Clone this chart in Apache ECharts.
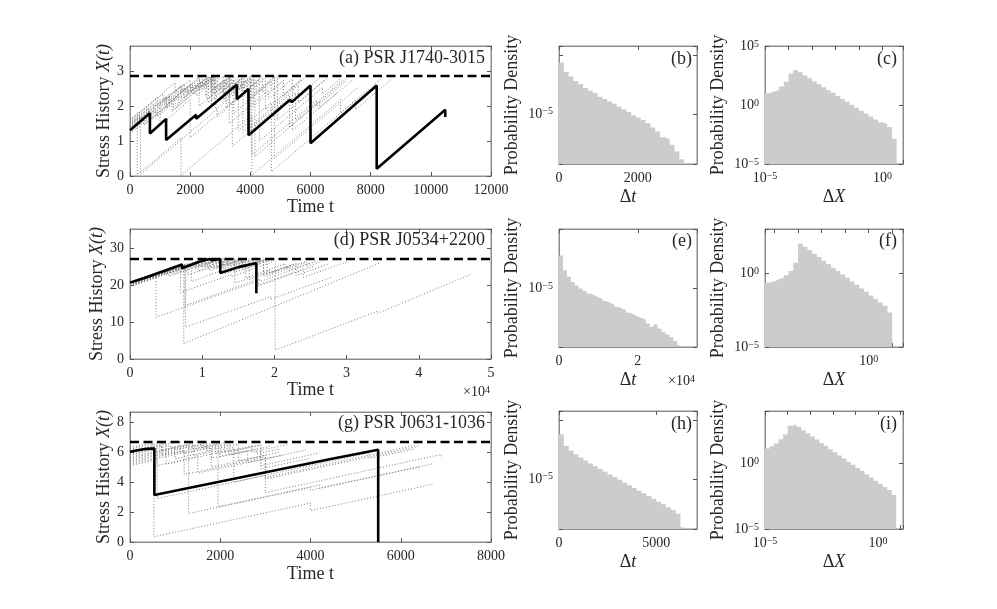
<!DOCTYPE html>
<html>
<head>
<meta charset="utf-8">
<script src="https://cdn.jsdelivr.net/npm/echarts@6/dist/echarts.min.js"></script>
<style>
html, body { margin: 0; padding: 0; background: #fff; }
#main { width: 997px; height: 609px; }
</style>
</head>
<body>
<div id="main"></div>
<script>
/* ---------- stress histories (t, X) ---------- */
// (a) PSR J1740-3015
let thresholdA = 2.87;
let blackA = [[0,1.31],[240,1.49],[260,1.45],[662,1.80],[662,1.22],[1200,1.64],[1200,1.03],[2200,1.76],[2200,1.64],[3550,2.62],[3550,2.20],[3940,2.50],[3940,1.17],[5320,2.19],[5380,2.12],[6000,2.60],[6000,0.94],[8200,2.60],[8200,0.21],[10480,1.90],[10480,1.69]];
let grayA = [
    [[0,1.52],[240,1.70],[240,0.03],[1700,1.10],[1700,0.02],[4050,1.75],[4050,0.02],[7000,2.19],[7000,1.80],[8400,2.83]],
    [[0,1.42],[650,1.90],[650,1.55],[1450,2.14],[1450,1.90],[2700,2.82],[2700,2.45],[3150,2.78],[3150,2.20],[3900,2.75],[3900,1.30],[5300,2.33],[5300,1.40],[7300,2.87]],
    [[0,1.30],[1000,2.03],[1000,1.45],[2000,2.19],[2000,1.10],[3400,2.13],[3400,0.85],[5500,2.39],[5500,1.60],[7100,2.78]],
    [[0,1.20],[900,1.86],[900,1.70],[1400,2.07],[1400,1.85],[2500,2.66],[2500,2.30],[3000,2.67],[3000,2.40],[3600,2.84],[3600,1.30],[4700,2.11],[4700,0.12],[7500,2.18],[7500,1.90],[8700,2.78]],
    [[0,1.62],[300,1.84],[300,1.60],[1200,2.26],[1200,2.05],[1900,2.56],[1900,2.35],[2600,2.86],[2600,2.50],[3100,2.87],[3100,2.20],[4000,2.86],[4000,1.20],[5600,2.38],[5600,2.10],[6600,2.84]],
    [[0,1.35],[500,1.72],[500,1.50],[1600,2.31],[1600,2.10],[2200,2.54],[2200,2.30],[2900,2.81],[2900,2.55],[3300,2.84],[3300,1.50],[4600,2.46],[4600,2.20],[5400,2.79],[5400,1.30],[6900,2.40]],
    [[0,1.48],[800,2.07],[800,1.80],[1800,2.53],[1800,2.25],[2400,2.69],[2400,2.50],[2850,2.83],[2850,1.90],[3800,2.60],[3800,2.40],[4300,2.77],[4300,1.00],[6400,2.54],[6400,2.35],[7000,2.79]],
    [[0,1.55],[1100,2.36],[1100,2.15],[1700,2.59],[1700,2.40],[2300,2.84],[2300,2.00],[3100,2.59],[3100,2.35],[3700,2.79],[3700,2.45],[4150,2.78],[4150,0.55],[6300,2.13],[6300,1.95],[7400,2.76]],
    [[0,1.38],[1300,2.34],[1300,2.10],[2050,2.65],[2050,2.45],[2550,2.82],[2550,2.20],[3450,2.86],[3450,1.80],[4900,2.87],[4900,1.60],[6500,2.78]],
    [[0,1.45],[350,1.71],[350,0.05],[2900,1.92],[2900,1.70],[3900,2.44],[3900,2.20],[4800,2.86],[4800,0.50],[7600,2.56]],
    [[0,1.58],[1500,2.68],[1500,2.40],[2000,2.77],[2000,2.55],[2400,2.84],[2400,2.60],[2750,2.86],[2750,2.40],[3350,2.84],[3350,2.55],[3750,2.84],[3750,1.25],[5600,2.61],[5600,2.30],[6300,2.81]],
    [[0,1.33],[700,1.84],[700,1.65],[1900,2.53],[1900,2.40],[2350,2.73],[2350,2.55],[2750,2.84],[2750,2.30],[3250,2.67],[3250,2.45],[3700,2.78],[3700,2.50],[4050,2.76],[4050,0.60],[6200,2.18],[6200,2.00],[7200,2.73]],
    [[0,1.50],[600,1.94],[600,1.75],[1300,2.26],[1300,2.10],[2000,2.61],[2000,2.40],[2500,2.77],[2500,2.60],[2800,2.82],[2800,2.35],[3400,2.79],[3400,2.50],[3800,2.79],[3800,2.30],[4500,2.81],[4500,1.90],[5700,2.78]],
    [[0,1.40],[1200,2.28],[1200,1.95],[2100,2.61],[2100,2.35],[2700,2.79],[2700,2.15],[3500,2.74],[3500,2.40],[4100,2.84],[4100,2.00],[5100,2.74],[5100,2.30],[5800,2.81]],
    [[0,1.25],[1600,2.43],[1600,2.20],[2200,2.64],[2200,2.50],[2700,2.87],[2700,2.05],[3600,2.71],[3600,2.55],[4000,2.84],[4000,2.20],[4700,2.71],[4700,2.45],[5100,2.74]],
    [[0,1.60],[900,2.26],[900,2.00],[1700,2.59],[1700,2.20],[2600,2.86],[2600,2.10],[3300,2.61],[3300,2.30],[4000,2.81],[4000,2.55],[4300,2.77]],
    [[0,1.28],[450,1.61],[450,1.45],[1500,2.22],[1500,2.00],[2300,2.59],[2300,2.45],[2800,2.82],[2800,2.50],[3200,2.79],[3200,1.95],[4200,2.69],[4200,2.40],[4800,2.84],[4800,2.10],[5700,2.76]],
    [[0,1.46],[1000,2.20],[1000,2.05],[1800,2.64],[1800,2.45],[2300,2.82],[2300,2.55],[2700,2.84],[2700,2.40],[3300,2.84],[3300,2.05],[4400,2.86],[4400,2.40],[5000,2.84]]
];

// (d) PSR J0534+2200
let thresholdD = 27.1;
let blackD = [[0,20.7],[1900,21.9],[1900,21.6],[7200,25.6],[7200,24.6],[9500,26.3],[9500,26.0],[11000,27.1],[11300,26.8],[12500,27.1],[12500,23.3],[15000,24.9],[15000,24.4],[17500,26.0],[17500,17.8]];
let grayD = [
    [[0,20.2],[3600,22.6],[3600,11.3],[17800,21.2],[17800,19.8],[25500,25.2]],
    [[0,20.0],[7450,25.3],[7450,4.2],[34600,26.0]],
    [[0,20.5],[5000,24.0],[5000,22.8],[9000,25.6],[9000,24.5],[12000,26.6],[12000,25.0],[15500,27.1],[15500,24.3],[20100,27.2],[20100,2.4],[34200,12.9],[34200,12.3],[47300,23.0]],
    [[0,19.5],[6000,23.7],[6000,23.0],[10500,26.2],[10500,24.8],[13500,26.9],[13500,25.2],[17500,26.9],[17500,19.9],[24000,24.4],[24000,22.1],[30000,26.3]],
    [[0,20.8],[4000,23.6],[4000,23.0],[8000,25.8],[8000,25.0],[11000,27.1],[11000,24.0],[16000,27.2],[16000,22.0],[21500,25.8],[21500,24.5],[24500,26.6]],
    [[0,20.3],[7600,25.6],[7600,14.5],[18000,21.8],[18000,21.0],[26000,26.6]],
    [[0,19.9],[8500,25.8],[8500,21.0],[13000,24.2],[13000,23.0],[18500,26.8],[18500,22.5],[22000,25.0],[22000,24.0],[25000,26.1]],
    [[0,20.6],[3000,22.7],[3000,22.1],[7000,24.9],[7000,18.0],[14000,22.9],[14000,22.3],[20000,26.5]],
    [[0,20.1],[9500,26.7],[9500,23.8],[14500,27.1],[14500,20.5],[19500,24.0],[19500,23.4],[23000,25.9],[23000,22.6],[27500,25.8]],
    [[0,19.6],[7700,25.0],[7700,8.6],[19500,16.9],[19500,16.2],[28000,22.2]],
    [[0,20.9],[2000,22.3],[2000,21.6],[6500,24.8],[6500,24.0],[10000,26.5],[10000,25.2],[12800,27.2],[12800,24.8],[17000,27.0],[17000,25.5],[19000,26.9],[19000,22.4],[24500,26.3],[24500,25.0],[27000,26.8]],
    [[0,20.4],[6000,24.3],[6000,23.6],[9500,25.9],[9500,25.3],[12500,27.2],[12500,25.8],[14500,27.1],[14500,23.5],[18000,25.8]],
    [[0,19.8],[9000,25.7],[9000,25.1],[11500,26.7],[11500,24.6],[15000,26.9],[15000,26.2],[16500,27.2],[16500,21.5],[20500,24.1]],
    [[0,20.0],[5500,23.6],[5500,22.5],[10000,25.4],[10000,24.8],[13500,27.1],[13500,25.5],[15500,26.8],[15500,25.0],[18500,27.0],[18500,23.0],[22500,25.6]],
    [[0,21.0],[4500,23.9],[4500,23.3],[9000,26.2],[9000,25.8],[10500,26.8],[10500,25.6],[13000,27.2],[13000,24.3],[16500,26.6],[16500,25.6],[18000,26.6]],
    [[0,20.5],[8000,25.7],[8000,22.8],[12000,25.4],[12000,24.7],[15700,27.1],[15700,24.9],[19000,27.0]]
];

// (g) PSR J0631-1036
let thresholdG = 6.68;
let blackG = [[0,6.03],[300,6.20],[380,6.22],[400,6.18],[540,6.25],[540,3.14],[4450,5.55],[4450,5.50],[5500,6.16],[5500,0]];
let grayG = [
    [[0,5.95],[530,6.30],[530,0.35],[4000,2.60],[4000,2.10],[6700,3.85]],
    [[0,5.60],[1300,6.45],[1300,1.90],[4000,3.65],[4000,3.45],[6400,5.00],[6400,4.80]],
    [[0,5.80],[600,6.20],[600,2.90],[3000,4.45],[3000,4.30],[6300,6.45]],
    [[0,5.20],[1950,6.45],[1950,2.35],[4200,3.81],[4200,3.60],[6700,5.22]],
    [[0,6.10],[800,6.60],[800,5.20],[2300,6.20],[2300,4.00],[5300,5.95],[5300,5.60],[6300,6.20]],
    [[0,5.40],[1000,6.05],[1000,5.55],[1800,6.10],[1800,5.00],[3000,5.80],[3000,4.20],[6400,6.40]],
    [[0,5.97],[700,6.42],[700,5.80],[1200,6.12],[1200,5.90],[1800,6.30],[1800,5.60],[2600,6.12],[2600,5.30],[3400,5.80]],
    [[0,5.10],[600,5.50],[600,5.10],[1500,5.70],[1500,4.60],[2900,5.50],[2900,4.90],[4000,5.60]],
    [[0,6.08],[1100,6.70],[1100,6.00],[1700,6.40],[1700,6.10],[2400,6.55],[2400,5.40],[3300,6.00]],
    [[0,5.68],[1400,6.55],[1400,6.20],[2000,6.60],[2000,5.70],[2800,6.20],[2800,5.90],[3300,6.20]],
    [[0,5.30],[1200,6.08],[1200,4.50],[3000,5.67],[3000,3.30],[6900,5.85],[6900,5.60]],
    [[0,6.20],[700,6.66],[700,6.10],[1300,6.49],[1300,6.25],[1900,6.64],[1900,5.90],[2700,6.42],[2700,6.00],[3500,6.52]],
    [[0,5.85],[900,6.44],[900,6.30],[1400,6.63],[1400,5.75],[2300,6.34],[2300,6.10],[2900,6.49],[2900,5.50],[3900,6.15]],
    [[0,5.50],[1600,6.54],[1600,6.30],[2100,6.63],[2100,5.95],[2900,6.47],[2900,5.10],[4200,5.95]],
    [[0,6.30],[500,6.63],[500,6.00],[1000,6.33],[1000,6.15],[1700,6.60],[1700,6.20],[2200,6.53],[2200,5.80],[3100,6.39]]
];

/* ---------- histograms ---------- */
// waiting times: first edge + uniform bin width, densities per bin
let dtStartB = 0, dtWidthB = 122;
let densB = [7.4e-5,5.1e-5,4.3e-5,3.6e-5,3.2e-5,2.75e-5,2.5e-5,2.25e-5,1.95e-5,1.78e-5,1.62e-5,1.48e-5,1.32e-5,1.2e-5,1.07e-5,9.5e-6,8.7e-6,7.9e-6,6.9e-6,5.9e-6,5.0e-6,4.0e-6,3.7e-6,3.0e-6,2.3e-6,1.7e-6];
let dtStartE = 0, dtWidthE = 1000;
let densE = [3.55e-5,2.0e-5,1.55e-5,1.26e-5,1.1e-5,9.8e-6,8.9e-6,8.1e-6,7.5e-6,7.0e-6,6.5e-6,6.0e-6,5.6e-6,5.2e-6,4.8e-6,4.5e-6,4.2e-6,3.8e-6,3.55e-6,3.3e-6,3.1e-6,2.9e-6,2.5e-6,2.2e-6,2.4e-6,2.05e-6,1.8e-6,1.63e-6,1.47e-6,1.26e-6,1.07e-6];
let dtStartH = 0, dtWidthH = 250;
let densH = [5.7e-5,3.6e-5,3.0e-5,2.6e-5,2.3e-5,2.05e-5,1.82e-5,1.63e-5,1.47e-5,1.32e-5,1.19e-5,1.07e-5,9.7e-6,8.6e-6,7.8e-6,7.0e-6,6.3e-6,5.7e-6,5.1e-6,4.6e-6,4.1e-6,3.7e-6,3.3e-6,2.96e-6,2.55e-6,1.52e-6];

// stress drops: log-spaced bin edges
let dxEdges = [1e-5,1.585e-5,2.512e-5,3.981e-5,6.31e-5,1e-4,1.585e-4,2.512e-4,3.981e-4,6.31e-4,1e-3,1.585e-3,2.512e-3,3.981e-3,6.31e-3,1e-2,1.585e-2,2.512e-2,3.981e-2,6.31e-2,0.1,0.1585,0.2512,0.3981,0.631,1,1.585,2.512,3.981,6.31];
let dxEdgesF = [3.981e-5,6.31e-5,1e-4,1.585e-4,2.512e-4,3.981e-4,6.31e-4,1e-3,1.585e-3,2.512e-3,3.981e-3,6.31e-3,1e-2,1.585e-2,2.512e-2,3.981e-2,6.31e-2,0.1,0.1585,0.2512,0.3981,0.631,1,1.585,2.512,3.981,6.31,10];
let densC = [10,13.9,19.3,37,93,457,871,589,324,182,100,59,32.6,18.1,10.7,5.9,3.26,1.93,1.07,0.59,0.33,0.19,0.107,0.059,0.035,0.024,0.014,0.0014];
let densF = [0.234,0.29,0.39,0.51,0.73,1.44,5.2,105,63,37,21,12.6,7.1,4.3,2.4,1.44,0.81,0.49,0.275,0.163,0.093,0.055,0.031,0.0186,0.0105,0.0063,0.0022];
let densI = [13.8,20.9,33,71,162,741,933,617,347,204,115,67,37,22,12.3,7.3,4.1,2.4,1.34,0.79,0.44,0.26,0.145,0.086,0.048,0.028,0.016,0.0093,0.0039];

/* ---------- styling ---------- */
const FONT = 'Liberation Serif';
const TXT = '#262626';
const BOX = '#8c8c8c';
const GRAY_DOT = { color: '#7d7d7d', width: 1, type: [1, 2] };

var chart = echarts.init(document.getElementById('main'));

// panel order: a b c / d e f / g h i
var boxes = [
    { left: 130, top: 46, width: 361, height: 130 },
    { left: 559, top: 46, width: 138, height: 118 },
    { left: 765, top: 46, width: 138, height: 118 },
    { left: 130, top: 229, width: 361, height: 130 },
    { left: 559, top: 229, width: 138, height: 118 },
    { left: 765, top: 229, width: 138, height: 118 },
    { left: 130, top: 412, width: 361, height: 130 },
    { left: 559, top: 411, width: 138, height: 118 },
    { left: 765, top: 411, width: 138, height: 118 }
];

var supRich = {
    s: { fontFamily: FONT, fontSize: 10, color: TXT, verticalAlign: 'top' },
    i: { fontFamily: FONT, fontSize: 18, color: TXT, fontStyle: 'italic' }
};

function powLabel(show) {
    return function (v) {
        var l = Math.log10(v), e = Math.round(l);
        if (Math.abs(l - e) > 1e-6 || show.indexOf(e) < 0) return '';
        return '10{s|' + (e < 0 ? '\u2212' + (-e) : e) + '}';
    };
}
function plain(v) { return String(v); }
function per1e4(v) { return String(v / 10000); }

var xAxes = [], yAxes = [];
function addAxes(gi, xo, yo) {
    ['bottom', 'top'].forEach(function (pos) {
        xAxes.push(Object.assign({
            gridIndex: gi, position: pos,
            axisLine: { show: true, onZero: false, lineStyle: { color: BOX, width: 1 } },
            axisTick: { show: true, inside: true, length: 4, lineStyle: { color: '#555' } },
            splitLine: { show: false }, minorTick: { show: false },
            axisLabel: Object.assign({ show: pos === 'bottom', color: TXT, fontFamily: FONT, fontSize: 14, margin: 7, rich: supRich, formatter: plain }, xo.label || {}),
            name: pos === 'bottom' ? xo.name : '', nameLocation: 'middle', nameGap: xo.nameGap,
            nameTextStyle: { fontFamily: FONT, fontSize: 18, color: TXT, rich: supRich }
        }, xo.scale));
    });
    ['left', 'right'].forEach(function (pos) {
        yAxes.push(Object.assign({
            gridIndex: gi, position: pos,
            axisLine: { show: true, onZero: false, lineStyle: { color: BOX, width: 1 } },
            axisTick: { show: true, inside: true, length: 4, lineStyle: { color: '#555' } },
            splitLine: { show: false }, minorTick: { show: false },
            axisLabel: Object.assign({ show: pos === 'left', color: TXT, fontFamily: FONT, fontSize: 14, margin: 6, rich: supRich, formatter: plain }, yo.label || {}),
            name: pos === 'left' ? yo.name : '', nameLocation: 'middle', nameGap: yo.nameGap, nameRotate: 90,
            nameTextStyle: { fontFamily: FONT, fontSize: 18, color: TXT, rich: supRich }
        }, yo.scale));
    });
}

var stressName = 'Stress History {i|X(t)}';
var pdName = 'Probability Density';
var dtName = '\u0394{i|t}';
var dxName = '\u0394{i|X}';
var lblPow5 = { formatter: powLabel([-5]) };
var lblPowY = { formatter: powLabel([-5, 0, 5]) };

// (a)
addAxes(0, { name: 'Time t', nameGap: 22, scale: { type: 'value', min: 0, max: 12000, interval: 2000 } },
           { name: stressName, nameGap: 17, scale: { type: 'value', min: 0, max: thresholdA * 1.3, interval: 1 }, label: { showMaxLabel: false } });
// (b)
addAxes(1, { name: dtName, nameGap: 24, scale: { type: 'value', min: 0, max: 3500, interval: 2000 }, label: { showMaxLabel: false } },
           { name: pdName, nameGap: 38, scale: { type: 'log', min: 1.413e-6, max: 1.413e-4 }, label: lblPow5 });
// (c)
addAxes(2, { name: dxName, nameGap: 24, scale: { type: 'log', min: 1e-5, max: 7.4, interval: 1 }, label: { formatter: powLabel([-5, 0]) } },
           { name: pdName, nameGap: 38, scale: { type: 'log', min: 1e-5, max: 1e5, interval: 5 }, label: lblPowY });
// (d)
addAxes(3, { name: 'Time t', nameGap: 22, scale: { type: 'value', min: 0, max: 50000, interval: 10000 }, label: { formatter: per1e4 } },
           { name: stressName, nameGap: 17, scale: { type: 'value', min: 0, max: thresholdD * 1.3, interval: 10 }, label: { showMaxLabel: false } });
// (e)
addAxes(4, { name: dtName, nameGap: 24, scale: { type: 'value', min: 0, max: 35000, interval: 20000 }, label: { showMaxLabel: false, formatter: per1e4 } },
           { name: pdName, nameGap: 38, scale: { type: 'log', min: 1e-6, max: 1e-4 }, label: lblPow5 });
// (f)
addAxes(5, { name: dxName, nameGap: 24, scale: { type: 'log', min: 3.981e-5, max: 28.8 }, label: { formatter: powLabel([0]) } },
           { name: pdName, nameGap: 38, scale: { type: 'log', min: 1e-5, max: 1e3, interval: 5 }, label: lblPowY });
// (g)
addAxes(6, { name: 'Time t', nameGap: 23, scale: { type: 'value', min: 0, max: 8000, interval: 2000 } },
           { name: stressName, nameGap: 17, scale: { type: 'value', min: 0, max: thresholdG * 1.3, interval: 2 }, label: { showMaxLabel: false } });
// (h)
addAxes(7, { name: dtName, nameGap: 24, scale: { type: 'value', min: 0, max: 7100, interval: 5000 }, label: { showMaxLabel: false } },
           { name: pdName, nameGap: 38, scale: { type: 'log', min: 1.413e-6, max: 1.413e-4 }, label: lblPow5 });
// (i)
addAxes(8, { name: dxName, nameGap: 24, scale: { type: 'log', min: 1e-5, max: 12.6, interval: 1 }, label: { formatter: powLabel([-5, 0]) } },
           { name: pdName, nameGap: 38, scale: { type: 'log', min: 1e-5, max: 1e4, interval: 5 }, label: lblPowY });

/* ---------- series ---------- */
var series = [];
function stressPanel(p, gray, black, thr, xMax) {
    gray.forEach(function (d) {
        series.push({ type: 'line', xAxisIndex: 2 * p, yAxisIndex: 2 * p, data: d, symbol: 'none', lineStyle: GRAY_DOT, silent: true, z: 2 });
    });
    series.push({ type: 'line', xAxisIndex: 2 * p, yAxisIndex: 2 * p, data: black, symbol: 'none', lineStyle: { color: '#000', width: 2.6 }, silent: true, z: 3 });
    series.push({ type: 'line', xAxisIndex: 2 * p, yAxisIndex: 2 * p, data: [[0, thr], [xMax, thr]], symbol: 'none', lineStyle: { color: '#000', width: 2.6, type: [9, 4.5] }, silent: true, z: 4 });
}
function histPanel(p, edges, dens) {
    var d = dens.map(function (v, k) { return [edges[k], v]; });
    d.push([edges[dens.length], dens[dens.length - 1]]);
    series.push({ type: 'line', xAxisIndex: 2 * p, yAxisIndex: 2 * p, data: d, step: 'end', symbol: 'none',
        lineStyle: { width: 0 }, areaStyle: { color: '#cccccc', opacity: 1, origin: 'start' }, silent: true, z: 2 });
}
function uniformEdges(start, width, n) {
    var e = [];
    for (var k = 0; k <= n; k++) e.push(start + k * width);
    return e;
}

stressPanel(0, grayA, blackA, thresholdA, 12000);
stressPanel(3, grayD, blackD, thresholdD, 50000);
stressPanel(6, grayG, blackG, thresholdG, 8000);
histPanel(1, uniformEdges(dtStartB, dtWidthB, densB.length), densB);
histPanel(4, uniformEdges(dtStartE, dtWidthE, densE.length), densE);
histPanel(7, uniformEdges(dtStartH, dtWidthH, densH.length), densH);
histPanel(2, dxEdges, densC);
histPanel(5, dxEdgesF, densF);
histPanel(8, dxEdges, densI);

/* ---------- panel labels ---------- */
function tag(text, right, top, size) {
    return { text: text, right: right, top: top, padding: 0,
        textStyle: { fontFamily: FONT, fontSize: size || 18, fontWeight: 'normal', color: TXT, rich: supRich } };
}

var option = {
    animation: false,
    backgroundColor: '#fff',
    title: [
        tag('(a) PSR J1740-3015', 512, 49), tag('(b)', 305, 50), tag('(c)', 100, 50),
        tag('(d) PSR J0534+2200', 512, 231), tag('(e)', 305, 232), tag('(f)', 100, 232),
        tag('(g) PSR J0631-1036', 512, 414), tag('(h)', 305, 415), tag('(i)', 100, 415),
        tag('\u00d710{s|4}', 507, 385, 14), tag('\u00d710{s|4}', 302, 374, 14)
    ],
    grid: boxes.map(function (b) {
        return Object.assign({ show: true, borderColor: BOX, borderWidth: 1, backgroundColor: '#fff', containLabel: false, outerBoundsMode: 'none' }, b);
    }),
    xAxis: xAxes,
    yAxis: yAxes,
    series: series
};
chart.setOption(option);
</script>
</body>
</html>
